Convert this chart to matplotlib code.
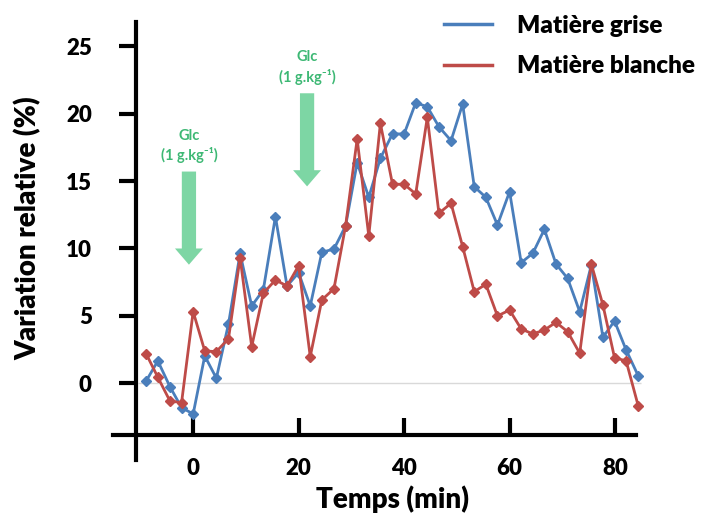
import matplotlib
matplotlib.use("Agg")
import matplotlib.pyplot as plt
from matplotlib.lines import Line2D

# ---- data ----
temps = [-8.9, -6.7, -4.4, -2.2, 0.0, 2.2, 4.4, 6.7, 8.9, 11.1, 13.3, 15.6, 17.8,
         20.0, 22.2, 24.4, 26.7, 28.9, 31.1, 33.3, 35.5, 37.8, 40.0, 42.2, 44.4,
         46.6, 48.9, 51.1, 53.3, 55.5, 57.7, 60.0, 62.2, 64.4, 66.6, 68.8, 71.0,
         73.3, 75.5, 77.7, 79.9, 82.1, 84.4]
grise = [0.19, 1.67, -0.24, -1.79, -2.26, 2.04, 0.39, 4.41, 9.64, 5.74, 6.93,
         12.36, 7.22, 8.21, 5.74, 9.72, 9.96, 11.67, 16.36, 13.79, 16.68, 18.5,
         18.48, 20.80, 20.50, 19.02, 17.99, 20.70, 14.58, 13.79, 11.74, 14.21,
         8.95, 9.64, 11.42, 8.85, 7.79, 5.32, 8.78, 3.42, 4.63, 2.48, 0.56]
blanche = [2.19, 0.46, -1.30, -1.42, 5.32, 2.41, 2.36, 3.32, 9.32, 2.73, 6.68,
           7.67, 7.22, 8.73, 1.99, 6.19, 7.02, 11.67, 18.11, 10.93, 19.27, 14.76,
           14.76, 14.04, 19.72, 12.61, 13.35, 10.14, 6.80, 7.35, 5.00, 5.44,
           4.04, 3.67, 3.96, 4.53, 3.84, 2.24, 8.85, 5.81, 1.91, 1.67, -1.67]
series_labels = ["Matière grise", "Matière blanche"]
xticks = [0, 20, 40, 60, 80]
yticks = [0, 5, 10, 15, 20, 25]
glc_times = [-0.8, 21.6]
glc_top = [15.7, 21.5]
glc_tip = [8.8, 14.6]
glc_label = "Glc\n(1 g.kg\u207b\u00b9)"

FONT = ["Lato", "DejaVu Sans"]
W = "heavy"
plt.rcParams["font.family"] = FONT
plt.rcParams["font.weight"] = W

BLUE = "#4A7EBB"
RED = "#BE4B48"
GREEN_TXT = "#3DB874"
GREEN_ARR = "#7DD6A4"

fig = plt.figure(figsize=(7.06, 5.19), dpi=100)
ax = fig.add_axes([113 / 706, 1 - 460 / 519, (646.7 - 113) / 706, 438 / 519])
ax.set_xlim(-15.2, 86)
ax.set_ylim(-5.67, 26.78)

# light zero line
ax.hlines(0, -10.5, 85, color="#D9D9D9", lw=1, zorder=1)

ax.plot(temps, grise, color=BLUE, lw=2, marker="D", ms=5.5, zorder=3,
        label=series_labels[0])
ax.plot(temps, blanche, color=RED, lw=2, marker="D", ms=5.5, zorder=3,
        label=series_labels[1])

# arrows and labels
for t, top, tip in zip(glc_times, glc_top, glc_tip):
    ax.arrow(t, top, 0, tip - top, width=2.7, head_width=5.3, head_length=1.2,
             length_includes_head=True, color=GREEN_ARR, lw=0, zorder=2)
    ax.text(t, top + 1.9, glc_label, ha="center", va="center", color=GREEN_TXT,
            fontsize=10.5, fontweight="bold", linespacing=1.35, family=FONT)

# spines
for s in ["top", "right"]:
    ax.spines[s].set_visible(False)
ax.spines["left"].set_position(("data", -10.8))
ax.spines["bottom"].set_position(("data", -3.85))
ax.spines["bottom"].set_bounds(-15.2, 83.9)
ax.spines["left"].set_linewidth(3)
ax.spines["bottom"].set_linewidth(3)

ax.set_xticks(xticks)
ax.set_yticks(yticks)
ax.tick_params(axis="y", direction="out", length=12, width=3, pad=20,
               labelsize=16)
ax.tick_params(axis="x", direction="in", length=12, width=3, pad=16,
               labelsize=16)
for lab in ax.get_xticklabels() + ax.get_yticklabels():
    lab.set_fontweight(W)

fig.text(28 / 706, 1 - 228 / 519, "Variation relative (%)", rotation=90,
         ha="center", va="center", fontsize=20, fontweight=W)
fig.text(392 / 706, 1 - 499 / 519, "Temps (min)", ha="center", va="center",
         fontsize=20, fontweight=W)

leg = fig.legend(handles=[Line2D([], [], color=BLUE, lw=2.5),
                          Line2D([], [], color=RED, lw=2.5)],
                 labels=series_labels, loc="upper left",
                 bbox_to_anchor=(422 / 706, 1 + 7 / 519), frameon=False,
                 handlelength=2.0, handletextpad=1.0,
                 labelspacing=0.75, prop={"weight": W, "size": 17.5})

fig.savefig("out.png", dpi=100)
